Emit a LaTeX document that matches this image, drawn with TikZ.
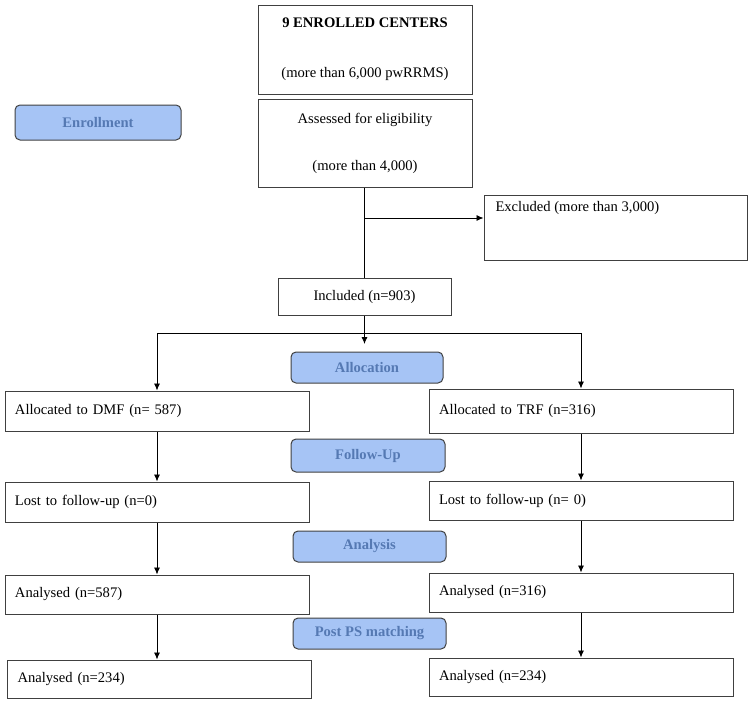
\documentclass[tikz,border=0pt]{standalone}
\usepackage{fontspec}
\setmainfont{Liberation Serif}
\usepackage[HTML]{xcolor}
\usepackage{tikz}
\usetikzlibrary{positioning, arrows, arrows.meta}

\definecolor{stagefill}{HTML}{A6C4F5}
\definecolor{stagetext}{HTML}{5579B3}
\definecolor{edge}{HTML}{404040}

\begin{document}
\begin{tikzpicture}[x=1pt,y=-1pt,
  >={Latex[length=7pt,width=6pt]},
  box/.style={draw=edge,line width=1pt,inner sep=0pt,font=\fontsize{14.6}{17}\selectfont},
  leftbox/.style={box,minimum width=304pt,text width=284pt,align=left},
  stage/.style={draw=edge,line width=1pt,fill=stagefill,rounded corners=5pt,
    minimum width=153pt,font=\fontsize{14.6}{17}\selectfont\bfseries,text=stagetext},
  link/.style={draw=black,line width=0.8pt}]
\useasboundingbox (0,0) rectangle (753,704);

% enrollment
\node[box,minimum width=214pt,minimum height=89pt,align=center] (centers) at (365,49.5)
  {\textbf{9 ENROLLED CENTERS}\\[33pt](more than 6,000 pwRRMS)};
\node[box,minimum width=214pt,minimum height=88pt,align=center] (assessed) at (365,143)
  {Assessed for eligibility\\[30pt](more than 4,000)};
\node[stage,minimum width=166pt,minimum height=35pt] (enroll) at (98,122.5) {Enrollment};
\node[box,minimum width=263pt,minimum height=65pt] (excluded) at (615.5,227.5)
  {\parbox[c][52pt][t]{240pt}{Excluded (more than 3,000)}};
\node[box,minimum width=173pt,minimum height=37pt] (included) at (364.5,296.5) {Included (n=903)};

% stages
\node[stage,minimum width=152pt,minimum height=31pt] (alloc) at (367,367.5) {Allocation};
\node[stage,minimum width=154pt,minimum height=33pt] (follow) at (368,455.5) {Follow-Up};
\node[stage,minimum width=153pt,minimum height=31pt] (analysis) at (369.5,546.5) {Analysis};
\node[stage,minimum width=153pt,minimum height=31pt] (postps) at (369.5,633.5) {Post PS matching};

% left arm
\node[leftbox,minimum height=40pt] (dmf) at (157,411) {Allocated to DMF (n= 587)};
\node[leftbox,minimum height=40pt] (lostdmf) at (157,502) {Lost to follow-up (n=0)};
\node[leftbox,minimum height=39pt] (anadmf) at (157,594.5) {Analysed (n=587)};
\node[leftbox,minimum height=38pt] (psdmf) at (159.5,679) {Analysed (n=234)};

% right arm
\node[leftbox,minimum height=44pt] (trf) at (581,411) {Allocated to TRF (n=316)};
\node[leftbox,minimum height=39pt] (losttrf) at (581,500.5) {Lost to follow-up (n= 0)};
\node[leftbox,minimum height=39pt] (anatrf) at (581,592.5) {Analysed (n=316)};
\node[leftbox,minimum height=38pt] (pstrf) at (581,677) {Analysed (n=234)};

% connectors
\coordinate (excl) at (364.5,218);
\coordinate (split) at (364.5,333);
\coordinate (down) at (364.5,344);
\draw[link] (included.north |- assessed.south) -- (included.north);
\draw[link,->] (excl) -- (excluded.west |- excl);
\draw[link,->] (included.south) -- (down);
\draw[link] (dmf.north |- split) -- (trf.north |- split);
\draw[link,->] (dmf.north |- split) -- (dmf.north);
\draw[link,->] (trf.north |- split) -- (trf.north);
\draw[link,->] (dmf) -- (lostdmf);
\draw[link,->] (lostdmf) -- (anadmf);
\draw[link,->] (anadmf.south) -- (anadmf.south |- psdmf.north);
\draw[link,->] (trf) -- (losttrf);
\draw[link,->] (losttrf) -- (anatrf);
\draw[link,->] (anatrf) -- (pstrf);
\end{tikzpicture}
\end{document}
